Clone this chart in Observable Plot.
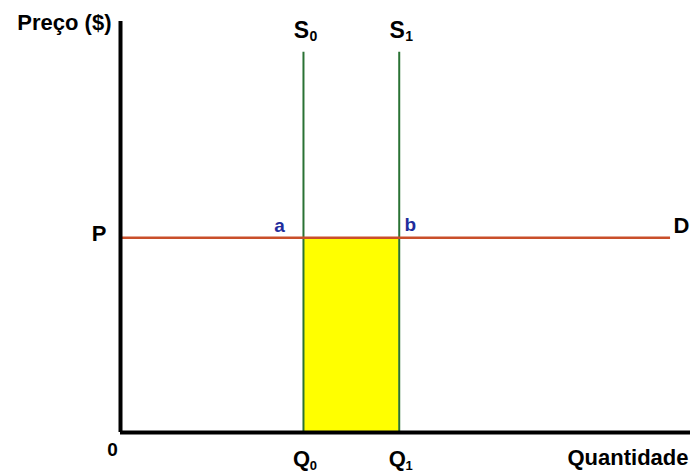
<!DOCTYPE html>
<html>
<head>
<meta charset="utf-8">
<script src="https://cdn.jsdelivr.net/npm/d3@7"></script>
<script src="https://cdn.jsdelivr.net/npm/@observablehq/plot@0.6"></script>
<style>
  html, body { margin: 0; padding: 0; background: #fff; }
  svg { display: block; }
</style>
</head>
<body>
<div id="chart"></div>
<script>
// Schematic values (axis units 0–100)
const supply = [
  { name: "S", sub: "0", q: 32.1 },
  { name: "S", sub: "1", q: 48.9 }
];
const priceP = 47.4;
const supplyTop = 92.5;
const demandEnd = 96.5;
const axisMax = { x: 100, y: 100 };
const qTicks = [
  { label: "Q", sub: "0", q: 32.1 },
  { label: "Q", sub: "1", q: 48.9 }
];
const pointA = [{ q: 32.1, label: "a" }];
const pointB = [{ q: 48.9, label: "b" }];
const demand = [{ x1: 0, x2: demandEnd, y: priceP, label: "D" }];
const area = [{ x1: supply[0].q, x2: supply[1].q, y1: 0, y2: priceP }];

const FONT = "'Liberation Sans', Arial, sans-serif";
const green = "#2a7234";
const red = "#c94f2a";
const blue = "#1f2d9c";

const chart = Plot.plot({
  width: 694,
  height: 473,
  marginLeft: 120,
  marginRight: 4,
  marginTop: 21,
  marginBottom: 41,
  x: { domain: [0, axisMax.x], axis: null },
  y: { domain: [0, axisMax.y], axis: null },
  style: { fontFamily: FONT, background: "#fff" },
  marks: [
    // shaded area
    Plot.rect(area, { x1: "x1", x2: "x2", y1: "y1", y2: "y2", fill: "#ffff00" }),
    // supply curves
    Plot.ruleX(supply, { x: "q", y1: 0, y2: supplyTop, stroke: green, strokeWidth: 2 }),
    // demand curve
    Plot.ruleY(demand, { y: "y", x1: "x1", x2: "x2", stroke: red, strokeWidth: 2.5 }),
    // axes
    Plot.ruleX([0], { y1: 0, y2: axisMax.y, stroke: "#000", strokeWidth: 4 }),
    Plot.ruleY([0], { x1: 0, x2: axisMax.x, stroke: "#000", strokeWidth: 4 }),
    // axis titles
    Plot.text(["Preço ($)"], { x: 0, y: axisMax.y, text: d => d, textAnchor: "end", dx: -9, dy: 1, fontSize: 22, fontWeight: "bold", fill: "#000" }),
    Plot.text(["Quantidade"], { x: axisMax.x, y: 0, text: d => d, textAnchor: "end", dx: -2, dy: 25, fontSize: 22, fontWeight: "bold", fill: "#000" }),
    // tick-ish labels
    Plot.text(["P"], { x: 0, y: priceP, text: d => d, textAnchor: "end", dx: -14, dy: -4, fontSize: 22, fontWeight: "bold", fill: "#000" }),
    Plot.text(["0"], { x: 0, y: 0, text: d => d, textAnchor: "middle", dx: -8, dy: 17, fontSize: 19, fontWeight: "bold", fill: "#000" }),
    Plot.text(qTicks, { x: "q", y: 0, text: "label", textAnchor: "middle", dx: -2, dy: 26, fontSize: 22, fontWeight: "bold", fill: "#000" }),
    Plot.text(qTicks, { x: "q", y: 0, text: "sub", textAnchor: "middle", dx: 10, dy: 33, fontSize: 13, fontWeight: "bold", fill: "#000" }),
    // supply labels
    Plot.text(supply, { x: "q", y: supplyTop, text: "name", textAnchor: "middle", dx: -2, dy: -22, fontSize: 23, fontWeight: "bold", fill: "#000" }),
    Plot.text(supply, { x: "q", y: supplyTop, text: "sub", textAnchor: "middle", dx: 10, dy: -16, fontSize: 14, fontWeight: "bold", fill: "#000" }),
    // demand label
    Plot.text(demand, { x: "x2", y: "y", text: "label", textAnchor: "start", dx: 3, dy: -12, fontSize: 22, fontWeight: "bold", fill: "#000" }),
    // intersection labels
    Plot.text(pointA, { x: "q", y: priceP, text: "label", textAnchor: "middle", dx: -24, dy: -12, fontSize: 19, fontWeight: "bold", fill: blue }),
    Plot.text(pointB, { x: "q", y: priceP, text: "label", textAnchor: "middle", dx: 11, dy: -13, fontSize: 19, fontWeight: "bold", fill: blue })
  ]
});

document.getElementById("chart").appendChild(chart);
</script>
</body>
</html>
